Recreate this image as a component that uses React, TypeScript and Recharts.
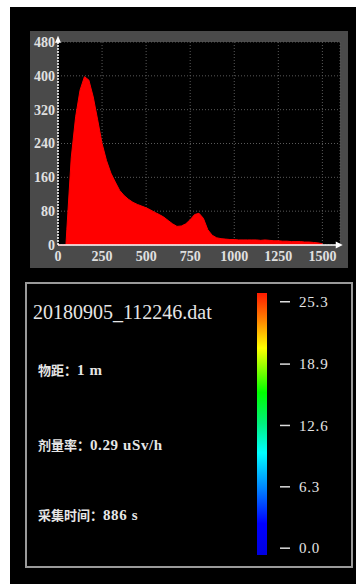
import { AreaChart, Area, XAxis, YAxis, CartesianGrid, ReferenceDot, BarChart, Bar } from "recharts";

// spectrum (channel -> counts)
const channels = [
  0, 45, 50, 75, 100, 125, 150, 175, 200, 225, 250, 275, 300, 325, 350, 375, 400, 425, 450, 475,
  500, 525, 550, 575, 600, 625, 650, 675, 700, 725, 750, 775, 800, 825, 850, 875, 900, 925, 950,
  975, 1000, 1025, 1050, 1075, 1100, 1125, 1150, 1175, 1200, 1225, 1250, 1275, 1300, 1325, 1350,
  1375, 1400, 1425, 1450, 1475, 1500,
];
const counts = [
  0, 0, 36, 206, 303, 366, 398, 390, 350, 296, 240, 200, 170, 149, 129, 117, 108, 101, 96, 92,
  88, 83, 77, 72, 66, 58, 50, 44, 45, 50, 60, 72, 75, 63, 36, 23, 17, 15, 14,
  13, 13, 12, 12, 12, 12, 12, 11, 12, 11, 10, 10, 9, 9, 8, 8,
  8, 7, 7, 6, 5, 3,
];
const xTicks = [0, 250, 500, 750, 1000, 1250, 1500];
const yTicks = [0, 80, 160, 240, 320, 400, 480];

const colorTicks = [0, 6.3, 12.6, 18.9, 25.3];
const colorRange = [-0.7, 26.2];

const fileName = "20180905_112246.dat";
const infoLines = [
  { label: "物距：", value: "1 m" },
  { label: "剂量率：", value: "0.29 uSv/h" },
  { label: "采集时间：", value: "886 s" },
];
const infoTops = [361, 436, 506];

const histData = channels.map((ch, i) => ({ ch, count: counts[i] }));
const barData = [{ name: "scale", range: colorRange }];

const labelFont = "'Liberation Serif', serif";

const ArrowRight = (p: any) => (
  <path d={`M${p.cx - 6},${p.cy - 3.5} L${p.cx + 1},${p.cy} L${p.cx - 6},${p.cy + 3.5} Z`} fill="#fff" />
);
const ArrowUp = (p: any) => (
  <path d={`M${p.cx - 3},${p.cy + 5} L${p.cx},${p.cy - 2} L${p.cx + 3},${p.cy + 5} Z`} fill="#fff" />
);

const ColorTick = (p: any) => (
  <g>
    <line x1={p.x + 13} x2={p.x + 23} y1={p.y} y2={p.y} stroke="#ddd" strokeWidth={1.5} />
    <text
      x={p.x + 32}
      y={p.y}
      dy="0.35em"
      fill="#e6e6e6"
      fontSize={15}
      fontFamily={labelFont}
      letterSpacing={0.8}
    >
      {p.payload.value.toFixed(1)}
    </text>
  </g>
);

export default function App() {
  return (
    <div style={{ position: "absolute", left: 0, top: 0, width: 356, height: 584, background: "#fff" }}>
      <div style={{ position: "absolute", left: 10, top: 7, width: 346, height: 577, background: "#000" }} />

      {/* spectrum panel */}
      <div style={{ position: "absolute", left: 30, top: 31, width: 318, height: 237, background: "#4a4a4a" }}>
        <AreaChart width={318} height={237} data={histData} margin={{ top: 11, right: 8, bottom: 0, left: 0 }}>
          <CartesianGrid stroke="#5a5a5a" strokeDasharray="1 2" fill="#000" fillOpacity={1} />
          <XAxis
            dataKey="ch"
            type="number"
            domain={[0, 1600]}
            ticks={xTicks}
            height={23}
            tickLine={false}
            tickSize={4}
            tickMargin={2}
            axisLine={{ stroke: "#fff", strokeWidth: 1.5 }}
            tick={{ fill: "#e0e0e0", fontSize: 14, fontFamily: labelFont, fontWeight: "bold" }}
            interval={0}
          />
          <YAxis
            type="number"
            domain={[0, 480]}
            ticks={yTicks}
            width={28}
            tickLine={false}
            tickSize={2}
            tickMargin={1}
            axisLine={{ stroke: "#fff", strokeWidth: 1.5, strokeDasharray: "2 1" }}
            tick={{ fill: "#e0e0e0", fontSize: 14, fontFamily: labelFont, fontWeight: "bold" }}
            interval={0}
          />
          <Area
            type="linear"
            dataKey="count"
            stroke="#ff0000"
            strokeWidth={1}
            fill="#ff0000"
            fillOpacity={1}
            dot={false}
            activeDot={false}
            isAnimationActive={false}
          />
          <ReferenceDot x={1610} y={0} r={3} ifOverflow="visible" shape={ArrowRight} />
          <ReferenceDot x={0} y={490} r={3} ifOverflow="visible" shape={ArrowUp} />
        </AreaChart>
      </div>

      {/* info panel */}
      <div
        style={{
          position: "absolute",
          left: 25,
          top: 282,
          width: 324,
          height: 282,
          border: "2px solid #9a9a9a",
          background: "#000",
        }}
      />
      <div
        style={{
          position: "absolute",
          left: 33,
          top: 302,
          fontFamily: labelFont,
          fontSize: 20,
          lineHeight: "20px",
          color: "#e6e6e6",
          whiteSpace: "nowrap",
        }}
      >
        {fileName}
      </div>
      {infoLines.map((l, i) => (
        <div
          key={l.label}
          style={{
            position: "absolute",
            left: 38,
            top: infoTops[i],
            fontFamily: "'Liberation Serif', 'Noto Sans CJK SC', serif",
            fontSize: 13,
            lineHeight: "18px",
            color: "#e6e6e6",
            whiteSpace: "nowrap",
          }}
        >
          <span style={{ fontWeight: "bold" }}>{l.label}</span>
          <span style={{ fontSize: 15, letterSpacing: 0.6, fontWeight: "bold" }}>{l.value}</span>
        </div>
      ))}

      {/* colour scale */}
      <div style={{ position: "absolute", left: 257, top: 293 }}>
        <BarChart
          width={80}
          height={262}
          data={barData}
          margin={{ top: 0, right: 0, bottom: 0, left: 0 }}
          barCategoryGap={0}
        >
          <defs>
            <linearGradient id="cbGrad" x1="0" y1="0" x2="0" y2="1">
              <stop offset="0" stopColor="#ff1a00" />
              <stop offset="0.1" stopColor="#ff8000" />
              <stop offset="0.21" stopColor="#ffff00" />
              <stop offset="0.38" stopColor="#00ff00" />
              <stop offset="0.5" stopColor="#00f080" />
              <stop offset="0.61" stopColor="#00ffff" />
              <stop offset="0.75" stopColor="#0080ff" />
              <stop offset="0.88" stopColor="#0000ff" />
              <stop offset="1" stopColor="#0000e0" />
            </linearGradient>
          </defs>
          <XAxis dataKey="name" hide />
          <YAxis
            orientation="right"
            type="number"
            domain={colorRange}
            ticks={colorTicks}
            width={70}
            axisLine={false}
            tickLine={false}
            tickSize={0}
            tickMargin={0}
            tick={ColorTick}
            interval={0}
          />
          <Bar dataKey="range" fill="url(#cbGrad)" isAnimationActive={false} />
        </BarChart>
      </div>
    </div>
  );
}
